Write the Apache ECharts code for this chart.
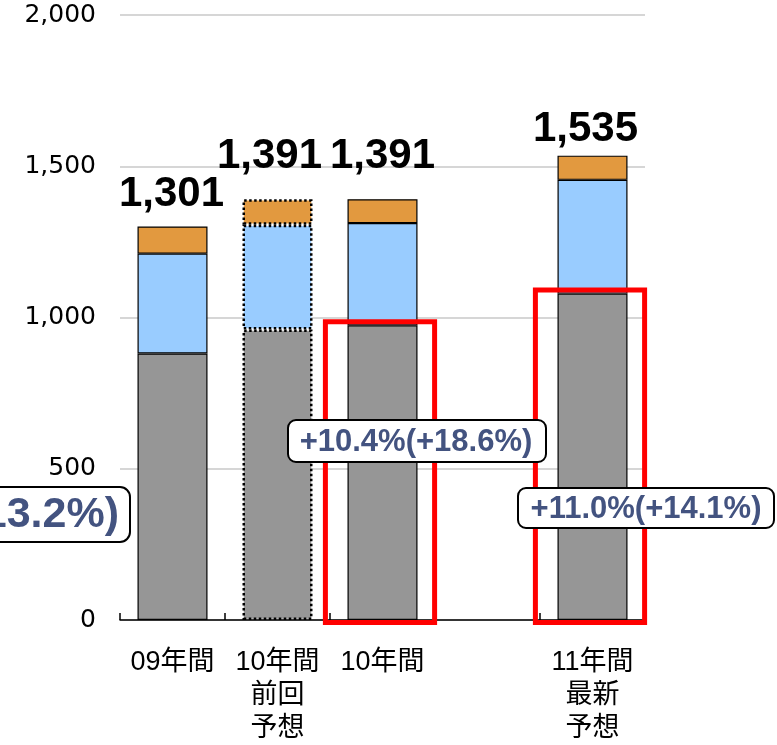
<!DOCTYPE html>
<html>
<head>
<meta charset="utf-8">
<script src="https://cdn.jsdelivr.net/npm/echarts@6/dist/echarts.min.js"></script>
<style>
html,body{margin:0;padding:0;background:#fff;}
#c{width:777px;height:745px;}
</style>
</head>
<body>
<div id="c"></div>
<script>
// ---- data ----
const categories = ['09年間', '10年間\n前回\n予想', '10年間', '', '11年間\n最新\n予想'];
const grayValues   = [881, 960, 974, null, 1079];
const blueValues   = [330, 347, 338, null, 376];
const orangeValues = [90, 84, 79, null, 80];
const totals       = [1301, 1391, 1391, null, 1535];
const highlighted  = [2, 4];          // categories framed in red
const forecastIdx  = 1;               // dotted (previous forecast) bar
const yTicks = [0, 500, 1000, 1500, 2000];
const notes = ['+10.4%(+18.6%)', '+11.0%(+14.1%)', '(+13.2%)'];

// ---- helpers ----
const fmt = v => String(v).replace(/\B(?=(\d{3})+(?!\d))/g, ',');
const BORDER = '#000';
function styled(arr, color) {
  return arr.map((v, i) => {
    if (v == null) return null;
    const item = { value: v };
    if (i === forecastIdx) item.itemStyle = { borderType: [2.5, 2.5], borderWidth: 2.5, borderColor: BORDER, color: color };
    return item;
  });
}
const labelOffsets = [[-1, -11], [-8, -22], [0, -22], [0, 0], [-7, -5]];
const orangeData = styled(orangeValues, '#E2993F').map((d, i) => {
  if (!d) return d;
  d.label = { show: true, offset: labelOffsets[i], formatter: () => fmt(totals[i]) };
  return d;
});

const chart = echarts.init(document.getElementById('c'), null, { renderer: 'canvas' });
const option = {
  animation: false,
  backgroundColor: '#fff',
  grid: { left: 120, right: 132, top: 15, bottom: 124 },
  xAxis: {
    type: 'category',
    data: categories,
    axisLine: { lineStyle: { color: '#000', width: 1.5 } },
    axisTick: { show: true, inside: true, length: 7, interval: 0, lineStyle: { color: '#000', width: 1.5 } },
    axisLabel: {
      interval: 0, margin: 26, color: '#000',
      fontFamily: '"Liberation Sans", "Noto Sans CJK JP"', fontSize: 27, lineHeight: 33
    },
    splitLine: { show: false }
  },
  yAxis: {
    type: 'value',
    min: yTicks[0], max: yTicks[yTicks.length - 1], interval: yTicks[1] - yTicks[0],
    axisLine: { show: false },
    axisTick: { show: false },
    axisLabel: { margin: 24, color: '#000', fontFamily: '"DejaVu Sans"', fontSize: 25, formatter: v => fmt(v) },
    splitLine: { lineStyle: { color: '#C8C8C8', width: 1.5 } }
  },
  series: [
    {
      type: 'bar', stack: 'a', barWidth: 70,
      itemStyle: { color: '#969696', borderColor: BORDER, borderWidth: 1.2 },
      data: styled(grayValues, '#969696')
    },
    {
      type: 'bar', stack: 'a', barWidth: 70,
      itemStyle: { color: '#99CCFF', borderColor: BORDER, borderWidth: 1.2 },
      data: styled(blueValues, '#99CCFF')
    },
    {
      type: 'bar', stack: 'a', barWidth: 70,
      itemStyle: { color: '#E2993F', borderColor: BORDER, borderWidth: 1.2 },
      label: {
        show: true, position: 'top', distance: 0, color: '#000',
        fontFamily: '"Liberation Sans", Arial', fontWeight: 'bold', fontSize: 42
      },
      data: orangeData
    },
    {
      type: 'custom',
      z: 5,
      data: highlighted.map(i => [i, grayValues[i]]),
      renderItem: function (params, api) {
        const top = api.coord([api.value(0), api.value(1)]);
        const base = api.coord([api.value(0), 0]);
        const w = api.size([1, 0])[0] * 1.04;
        const cx = top[0] - 2.5;
        const y0 = top[1] - 3.5;
        return {
          type: 'rect',
          shape: { x: cx - w / 2, y: y0, width: w, height: base[1] + 2.5 - y0 },
          style: { fill: 'none', stroke: '#FF0000', lineWidth: 5 }
        };
      }
    }
  ],
  graphic: [
    { type: 'rect', z: 100, shape: { x: 288, y: 420, width: 258, height: 42, r: 8 },
      style: { fill: '#fff', stroke: '#000', lineWidth: 2 } },
    { type: 'text', z: 101, x: 416, y: 442,
      style: { text: notes[0], fill: '#435380', font: 'bold 31px "Liberation Sans"',
               align: 'center', verticalAlign: 'middle', textAlign: 'center', textVerticalAlign: 'middle' } },
    { type: 'rect', z: 100, shape: { x: 518, y: 488, width: 256, height: 40, r: 8 },
      style: { fill: '#fff', stroke: '#000', lineWidth: 2 } },
    { type: 'text', z: 101, x: 646, y: 509,
      style: { text: notes[1], fill: '#435380', font: 'bold 31px "Liberation Sans"',
               align: 'center', verticalAlign: 'middle', textAlign: 'center', textVerticalAlign: 'middle' } },
    { type: 'rect', z: 100, shape: { x: -30, y: 487, width: 160, height: 55, r: 10 },
      style: { fill: '#fff', stroke: '#000', lineWidth: 2 } },
    { type: 'text', z: 101, x: 119, y: 515,
      style: { text: notes[2], fill: '#435380', font: 'bold 43px "Liberation Sans"',
               align: 'right', verticalAlign: 'middle', textAlign: 'right', textVerticalAlign: 'middle' } }
  ]
};
chart.setOption(option);
</script>
</body>
</html>
